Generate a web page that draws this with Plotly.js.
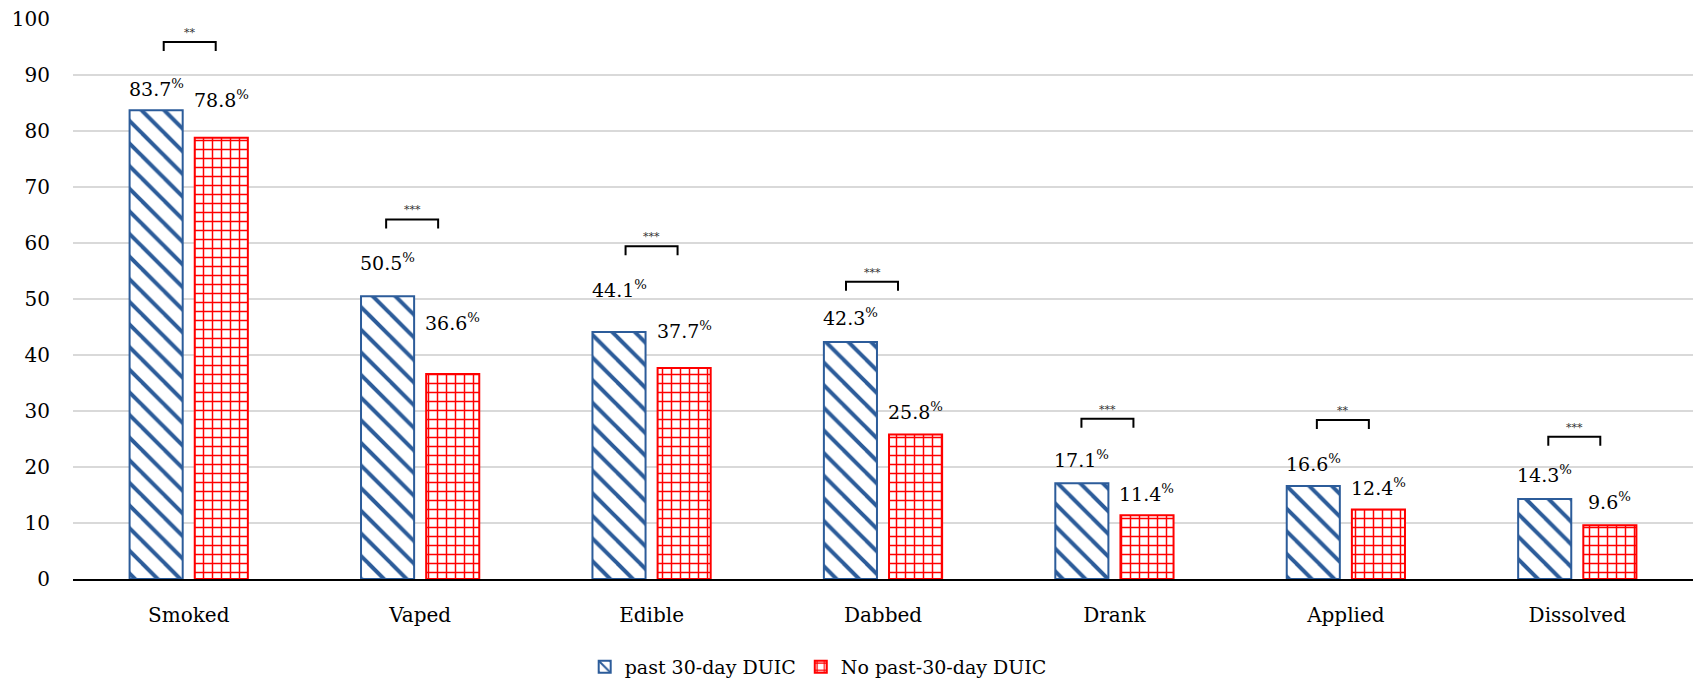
<!DOCTYPE html>
<html>
<head>
<meta charset="utf-8">
<script src="https://cdn.plot.ly/plotly-3.0.1.min.js"></script>
<style>html,body{margin:0;padding:0;background:#fff;}#chart{width:1694px;height:678px;}</style>
</head>
<body>
<div id="chart"></div>
<script>
// ---- data ----
const categories = ["Smoked", "Vaped", "Edible", "Dabbed", "Drank", "Applied", "Dissolved"];
const seriesNames = ["past 30-day DUIC", "No past-30-day DUIC"];
const duicValues = [83.7, 50.5, 44.1, 42.3, 17.1, 16.6, 14.3];
const noDuicValues = [78.8, 36.6, 37.7, 25.8, 11.4, 12.4, 9.6];
const sigLabels = ["**", "***", "***", "***", "***", "**", "***"];
const sigBracketLevel = [95.9, 64.2, 59.4, 53.1, 28.6, 28.4, 25.4];
const yTicks = [0, 10, 20, 30, 40, 50, 60, 70, 80, 90, 100];

// ---- layout helpers (pixel offsets, not data) ----
const blueLabelShift = [22, 34, 43, 25, 24, 23, 25];
const redLabelShift = [39, 52, 38, 24, 22, 23, 24];
const bracketCenterShift = [1, -8, 0, -11, -7, -3, -3];
const pxPerCat = 1620 / 7;
const pxPerUnit = 560 / 100;

const FONT = "DejaVu Serif, Liberation Serif, serif";
const BLUE = "#2c5c9a";
const RED = "#ff0000";

const traces = [
  {
    type: "bar", name: seriesNames[0], x: categories, y: duicValues,
    marker: { color: "#ffffff", line: { color: BLUE, width: 2 },
      pattern: { shape: "\\", fgcolor: BLUE, bgcolor: "#ffffff", fgopacity: 1, size: 16, solidity: 0.25, fillmode: "replace" } },
    hoverinfo: "skip"
  },
  {
    type: "bar", name: seriesNames[1], x: categories, y: noDuicValues,
    marker: { color: "#ffffff", line: { color: RED, width: 2 },
      pattern: { shape: "+", fgcolor: RED, bgcolor: "#ffffff", fgopacity: 1, size: 9, solidity: 0.3, fillmode: "replace" } },
    hoverinfo: "skip"
  }
];

const annotations = [];
const shapes = [];
const barOffsetPx = 32.5;
categories.forEach((c, i) => {
  annotations.push({
    x: c, y: duicValues[i], xref: "x", yref: "y", xshift: -barOffsetPx, yshift: blueLabelShift[i],
    text: duicValues[i].toFixed(1) + "<sup>%</sup>", showarrow: false, yanchor: "middle",
    font: { family: FONT, size: 19, color: "#000" }
  });
  annotations.push({
    x: c, y: noDuicValues[i], xref: "x", yref: "y", xshift: barOffsetPx, yshift: redLabelShift[i],
    text: noDuicValues[i].toFixed(1) + "<sup>%</sup>", showarrow: false, yanchor: "middle",
    font: { family: FONT, size: 19, color: "#000" }
  });
  const cx = i + bracketCenterShift[i] / pxPerCat;
  const hw = 26 / pxPerCat;
  const y = sigBracketLevel[i];
  const leg = 9 / pxPerUnit;
  shapes.push({
    type: "path", xref: "x", yref: "y",
    path: `M ${cx - hw} ${y - leg} L ${cx - hw} ${y} L ${cx + hw} ${y} L ${cx + hw} ${y - leg}`,
    line: { color: "#000", width: 2 }
  });
  annotations.push({
    x: cx, y: y, xref: "x", yref: "y", yshift: 1, yanchor: "bottom",
    text: sigLabels[i], showarrow: false,
    font: { family: FONT, size: 11, color: "#333" }
  });
});

const layout = {
  width: 1694, height: 678,
  margin: { l: 73, r: 1, t: 19, b: 99, autoexpand: false },
  paper_bgcolor: "#fff", plot_bgcolor: "#fff",
  barmode: "group", bargap: 0.437, bargroupgap: 0.185,
  font: { family: FONT, size: 20, color: "#000" },
  xaxis: {
    type: "category", showgrid: false, showline: true, linecolor: "#000", linewidth: 2,
    ticks: "", ticklabelstandoff: 17, tickfont: { family: FONT, size: 20, color: "#000" },
    zeroline: false, automargin: false
  },
  yaxis: {
    range: [0, 100], tickvals: yTicks, ticktext: yTicks.map(String),
    showgrid: true, gridcolor: "#d9d9d9", gridwidth: 2, showline: false,
    zeroline: false, ticks: "", ticklabelstandoff: 22, automargin: false,
    tickfont: { family: FONT, size: 20, color: "#000" }
  },
  showlegend: true,
  legend: {
    orientation: "h", x: 0.46, xanchor: "center", y: -0.157, yanchor: "middle",
    font: { family: FONT, size: 19, color: "#000" }, itemwidth: 30, traceorder: "normal"
  },
  annotations: annotations,
  shapes: shapes
};

Plotly.newPlot("chart", traces, layout, { displayModeBar: false, staticPlot: true });
</script>
</body>
</html>
